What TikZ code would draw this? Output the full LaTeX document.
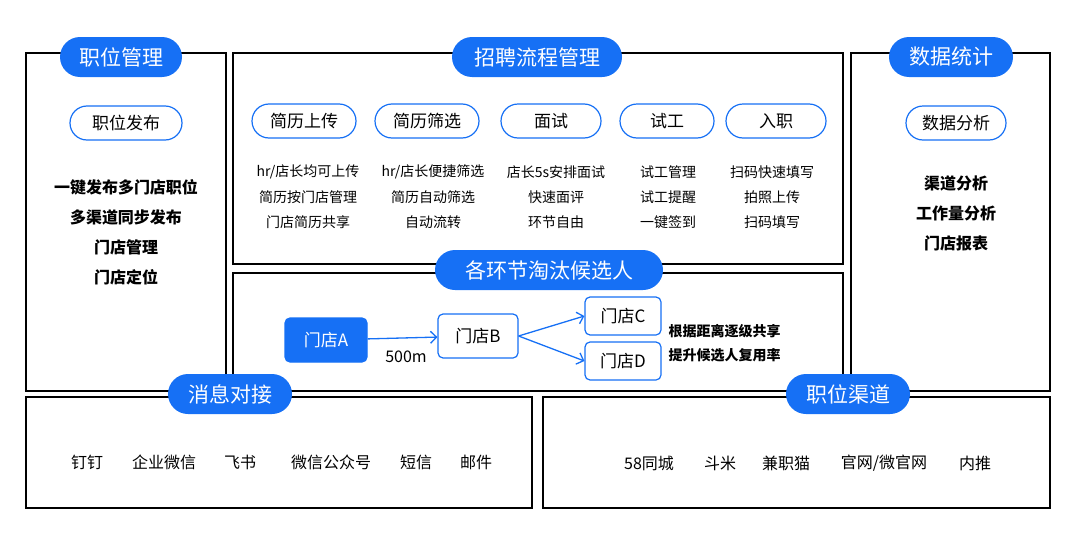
\documentclass[tikz,border=0pt]{standalone}
\usepackage{fontspec}
\setmainfont{Noto Sans CJK SC}
\usepackage{tikz}
\usetikzlibrary{positioning,arrows.meta}
\definecolor{mainblue}{RGB}{22, 112, 245}

\begin{document}
\begin{tikzpicture}[x=1pt, y=-1pt,
    panel/.style={draw, line width=1.5pt},
    title/.style={rectangle, rounded corners=20pt, fill=mainblue, text=white, minimum height=40pt, font=\fontsize{21}{24}\selectfont, inner xsep=14pt},
    stage/.style={rectangle, draw=mainblue, line width=1.2pt, rounded corners=17pt, minimum height=34pt, font=\fontsize{17}{19}\selectfont, fill=white},
    item/.style={font=\fontsize{14}{16}\selectfont, align=center},
    bolditem/.style={font=\fontsize{16}{30}\selectfont\bfseries, align=center},
    store/.style={rectangle, draw=mainblue, line width=1.2pt, rounded corners=5pt, minimum height=40pt, font=\fontsize{17}{19}\selectfont, fill=white},
    arrow/.style={-{Straight Barb[length=6pt]}, mainblue, line width=1.3pt}
]
    \useasboundingbox (0,0) rectangle (1080,533);

    % Panels
    \draw[panel] (26,53) rectangle (226,391);
    \draw[panel] (233,53) rectangle (843,264);
    \draw[panel] (233,273) rectangle (843,391);
    \draw[panel] (851,53) rectangle (1050,391);
    \draw[panel] (26,397) rectangle (532,508);
    \draw[panel] (543,397) rectangle (1050,508);

    % Titles
    \node[title, minimum width=122pt] (jobs) at (121,57) {职位管理};
    \node[title, minimum width=170pt] (process) at (537,57) {招聘流程管理};
    \node[title, minimum width=124pt] (stats) at (951,57) {数据统计};
    \node[title, minimum width=228pt] (reject) at (549,270) {各环节淘汰候选人};
    \node[title, minimum width=124pt] (msg) at (230,394) {消息对接};
    \node[title, minimum width=124pt] (channel) at (848,394) {职位渠道};

    % Job management
    \node[stage, minimum width=112pt] (publish) at (126,123) {职位发布};
    \node[bolditem] (publishtxt) at (126,232) {一键发布多门店职位\\多渠道同步发布\\门店管理\\门店定位};

    % Process steps
    \node[stage, minimum width=104pt] (upload) at (304,121) {简历上传};
    \node[stage, minimum width=104pt] (filter) at (427,121) {简历筛选};
    \node[stage, minimum width=100pt] (interview) at (551,121) {面试};
    \node[stage, minimum width=94pt] (trial) at (667,121) {试工};
    \node[stage, minimum width=100pt] (entry) at (776,121) {入职};
    \foreach \x/\a/\b/\c in {308/{hr/店长均可上传}/简历按门店管理/门店简历共享,
                             433/{hr/店长便捷筛选}/简历自动筛选/自动流转,
                             556/店长5s安排面试/快速面评/环节自由,
                             668/试工管理/试工提醒/一键签到,
                             772/扫码快速填写/拍照上传/扫码填写}
    {
        \node[item] at (\x,172) {\a};
        \node[item] at (\x,197) {\b};
        \node[item] at (\x,222) {\c};
    }

    % Data statistics
    \node[stage, minimum width=100pt] (analysis) at (956,123) {数据分析};
    \node[bolditem] (analysistxt) at (956,213) {渠道分析\\工作量分析\\门店报表};

    % Stores
    \node[store, fill=mainblue, text=white, minimum width=82pt, minimum height=44pt] (storeA) at (326,340) {门店A};
    \node[store, minimum width=80pt, minimum height=44pt] (storeB) at (478,336) {门店B};
    \node[store, minimum width=76pt, minimum height=38pt] (storeC) at (623,316) {门店C};
    \node[store, minimum width=76pt, minimum height=38pt] (storeD) at (623,361) {门店D};
    \draw[arrow] (storeA) -- (storeB);
    \draw[arrow] (storeB.east) -- (storeC.west);
    \draw[arrow] (storeB.east) -- (storeD.west);
    \node[font=\fontsize{16}{18}\selectfont] (dist) at (406,357) {500m};
    \node[font=\fontsize{14}{24}\selectfont\bfseries, align=left, anchor=west] (share) at (665,343) {根据距离逐级共享\\提升候选人复用率};

    % Messaging
    \foreach \x/\t in {87/钉钉, 164/企业微信, 240/飞书, 331/微信公众号, 416/短信, 476/邮件}
        \node[font=\fontsize{16}{18}\selectfont] at (\x,462) {\t};

    % Channels
    \foreach \x/\t in {649/58同城, 720/斗米, 786/兼职猫, 884/{官网/微官网}, 975/内推}
        \node[font=\fontsize{16}{18}\selectfont] at (\x,463) {\t};
\end{tikzpicture}
\end{document}
